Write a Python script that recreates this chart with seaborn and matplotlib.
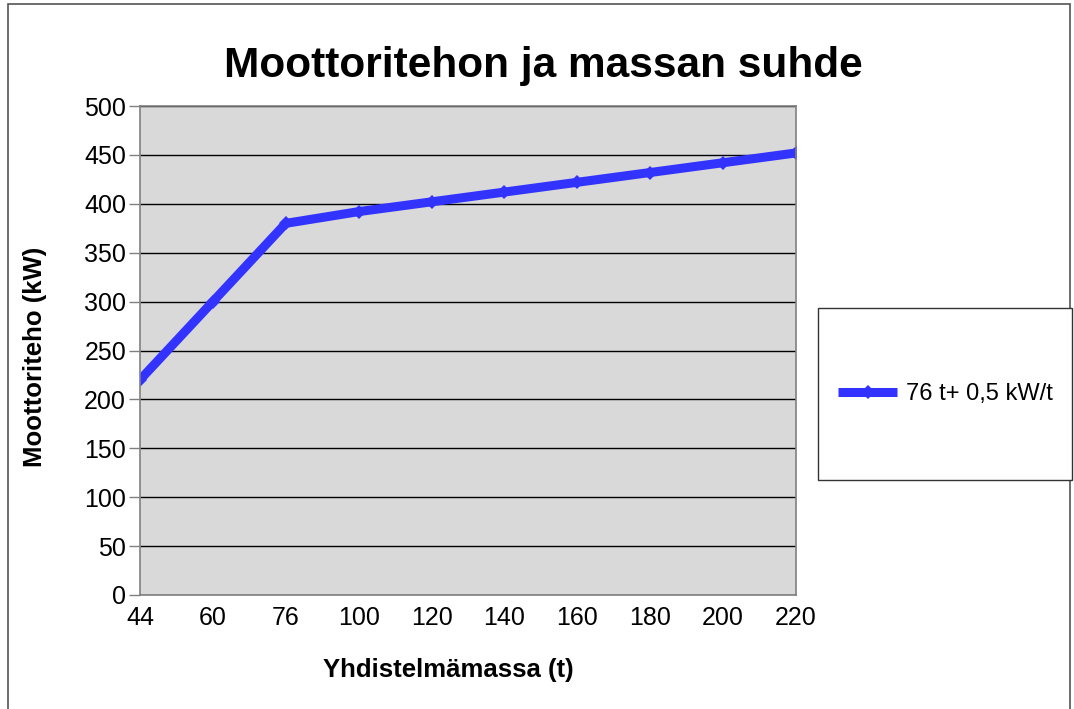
import pandas as pd
import numpy as np
import matplotlib.pyplot as plt
import matplotlib.patches as mpatches
import seaborn as sns

# data
mass = ['44', '60', '76', '100', '120', '140', '160', '180', '200', '220']
power = [220, 300, 380, 392, 402, 412, 422, 432, 442, 452]
series_name = '76 t+ 0,5 kW/t'

df = pd.DataFrame({'mass': mass, 'power': power, 'series': series_name})

sns.set_style('white')
plt.rcParams['font.family'] = ['Liberation Sans', 'DejaVu Sans']
plt.rcParams['text.color'] = 'black'
plt.rcParams['xtick.color'] = 'black'
plt.rcParams['ytick.color'] = 'black'
plt.rcParams['axes.labelcolor'] = 'black'

fig = plt.figure(figsize=(10.74, 7.09), dpi=100)
ax = fig.add_axes([140 / 1074, 1 - 595 / 709, 656 / 1074, 489 / 709])
ax.set_facecolor('#d9d9d9')

# outer chart frame
fig.patches.append(mpatches.Rectangle((8 / 1074, -0.01), 1062 / 1074, 1 - 4 / 709 + 0.01,
                                      transform=fig.transFigure, fill=False,
                                      edgecolor='#555555', linewidth=1.2))

sns.lineplot(data=df, x='mass', y='power', hue='series', palette=['#3333ff'],
             marker='D', markersize=7, linewidth=6.5, markeredgewidth=0,
             solid_capstyle='butt', sort=False, ax=ax, legend=False)

ax.set_xlim(0, len(mass) - 1)
ax.set_ylim(0, 500)
ax.set_yticks(np.arange(0, 501, 50))
ax.set_xticks(range(len(mass)))
ax.set_xticklabels(mass)
ax.yaxis.grid(True, color='black', linewidth=1)
ax.xaxis.grid(False)
ax.set_axisbelow(True)
for s in ax.spines.values():
    s.set_color('#808080')
    s.set_linewidth(1.2)
ax.tick_params(axis='y', length=8, width=1, color='#808080', labelcolor='black',
               labelsize=18, pad=2, left=True)
ax.tick_params(axis='x', length=0, labelsize=18, labelcolor='black', pad=8)

ax.set_xlabel('Yhdistelmämassa (t)', fontsize=18.5, fontweight='bold', va='center')
ax.set_ylabel('Moottoriteho (kW)', fontsize=18.5, fontweight='bold', va='center')
ax.xaxis.set_label_coords((448 - 140) / 656, (595 - 670) / 489)
ax.yaxis.set_label_coords((35 - 140) / 656, (595 - 357) / 489)
fig.text(543 / 1074, 1 - 66 / 709, 'Moottoritehon ja massan suhde', ha='center', va='center',
         fontsize=30.5, fontweight='bold')

# legend box
fig.patches.append(mpatches.Rectangle((818 / 1074, 1 - 480 / 709), 254 / 1074, 172 / 709,
                                      transform=fig.transFigure, fill=True, facecolor='white',
                                      edgecolor='#333333', linewidth=1))
handle = plt.Line2D([], [], color='#3333ff', linewidth=6.5, marker='D', markersize=7,
                    markeredgewidth=0, solid_capstyle='butt')
fig.legend([handle], [series_name], loc='center left', bbox_to_anchor=(817 / 1074, 1 - 394 / 709),
           frameon=False, fontsize=17, handlelength=2.5, handletextpad=0.35)

plt.savefig('out.png', dpi=100)
